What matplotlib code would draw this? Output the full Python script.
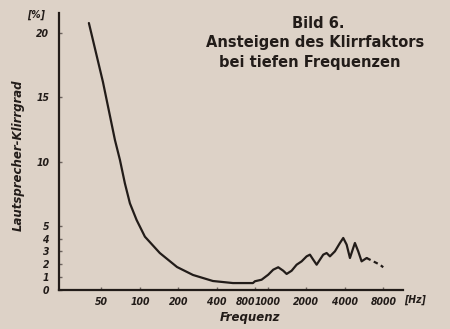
import matplotlib.pyplot as plt
from matplotlib.ticker import NullLocator

# Klirrgrad (%) über Frequenz (Hz)
freq = [39.9, 51.4, 63.8, 69.8, 76.3, 83.5, 94.2, 109.4, 143, 195, 260, 372,
        534, 765, 793, 894, 1007, 1102, 1206, 1320, 1403, 1535, 1680, 1838,
        2011, 2135, 2265, 2408, 2555, 2712, 2882, 3059, 3347, 3663, 3888, 4133,
        4386, 4653, 4797, 5091, 5411, 5922]
klirr = [20.78, 16.19, 11.67, 10.12, 8.30, 6.75, 5.45, 4.15, 2.88, 1.79, 1.17,
         0.70, 0.54, 0.54, 0.68, 0.80, 1.19, 1.58, 1.77, 1.50, 1.25, 1.50, 1.97,
         2.23, 2.62, 2.75, 2.36, 1.97, 2.36, 2.75, 2.88, 2.62, 3.01, 3.66, 4.05,
         3.53, 2.49, 3.27, 3.66, 3.01, 2.23, 2.49]
# gestrichelter Auslauf
tail_freq = [5922, 6285, 7526, 7984]
tail_klirr = [2.49, 2.36, 1.97, 1.77]

xticks = [50, 100, 200, 400, 800, 1000, 2000, 4000, 8000]
yticks = [0, 1, 2, 3, 4, 5, 10, 15, 20]

paper = '#ddd2c7'
ink = '#221c19'

fig = plt.figure(figsize=(4.5, 3.29), dpi=100, facecolor=paper)
ax = fig.add_axes([59/450, 39/329, 344/450, 277/329])
ax.set_facecolor(paper)

ax.plot(freq, klirr, color=ink, linewidth=1.6,
        solid_capstyle='round', solid_joinstyle='round')
ax.plot(tail_freq, tail_klirr, color=ink, linewidth=1.6, linestyle=(0, (2, 1.6)))

ax.set_xscale('log')
ax.set_xlim(23.3, 11400)
ax.set_ylim(0, 21.56)
ax.xaxis.set_minor_locator(NullLocator())

for side in ['top', 'right']:
    ax.spines[side].set_visible(False)
for side in ['left', 'bottom']:
    ax.spines[side].set_linewidth(1.6)
    ax.spines[side].set_color(ink)

tick_font = dict(fontsize=7.5, fontstyle='italic', fontstretch='condensed',
                 fontweight='bold', color=ink)
ax.set_xticks(xticks)
ax.set_xticklabels([str(v) for v in xticks], **tick_font)
ax.get_xticklabels()[4].set_ha('right')
ax.set_yticks(yticks)
ax.set_yticklabels([str(v) for v in yticks], **tick_font)
ax.tick_params(direction='in', length=2.5, width=1, color='#6e655f', pad=5)
ax.tick_params(axis='y', pad=7)

fig.text(415/450, 1 - 300/329, '[Hz]', ha='center', va='center', **tick_font)
fig.text(36/450, 1 - 15/329, '[%]', ha='center', va='center', **tick_font)
fig.text(250/450, 1 - 318/329, 'Frequenz', ha='center', va='center',
         fontsize=8.5, fontstyle='italic', fontweight='bold', color=ink)
fig.text(18/450, 1 - 155/329, 'Lautsprecher-Klirrgrad', rotation=90,
         ha='center', va='center', fontsize=8.5, fontstyle='italic',
         fontweight='bold', color=ink)

title_font = dict(fontsize=10.5, fontweight='bold', color=ink, ha='center', va='center')
fig.text(318/450, 1 - 23/329, 'Bild 6.', **title_font)
fig.text(315/450, 1 - 42/329, 'Ansteigen des Klirrfaktors', **title_font)
fig.text(310/450, 1 - 62/329, 'bei tiefen Frequenzen', **title_font)

fig.savefig('out.png', dpi=100, facecolor=paper)
